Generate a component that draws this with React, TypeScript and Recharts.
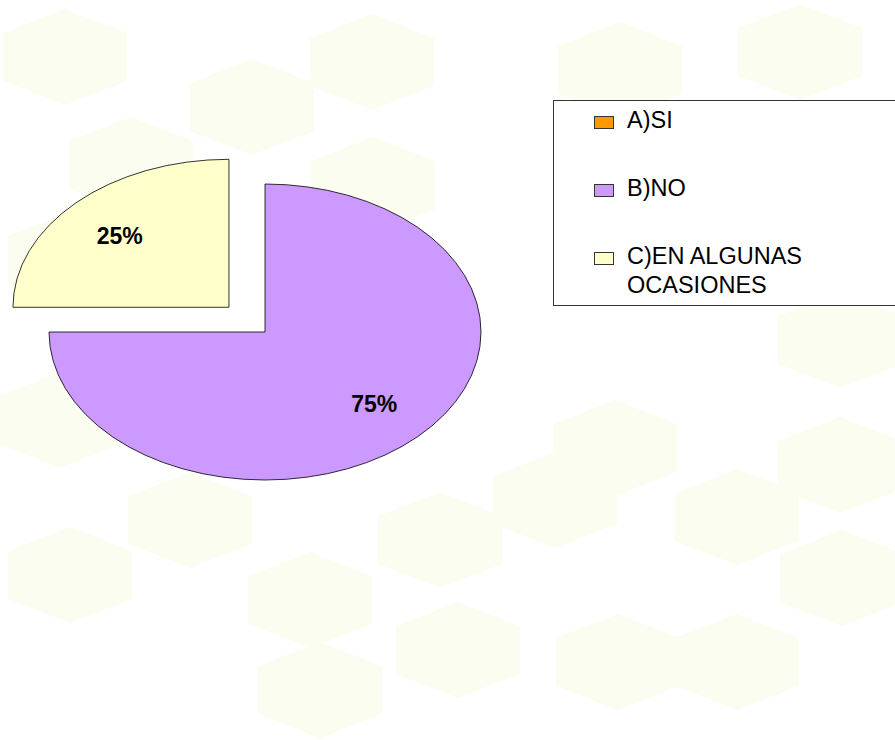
import React from 'react';
import { PieChart, Pie, Cell, Legend } from 'recharts';

const categories = ['A)SI', 'B)NO', 'C)EN ALGUNAS OCASIONES'];
const values = [0, 75, 25];
const colors = ['#FF9900', '#CC99FF', '#FFFFCC'];
const explodeOffsets = [0, 0, 51];
const legendLines = [['A)SI'], ['B)NO'], ['C)EN ALGUNAS', 'OCASIONES']];

const data = categories.map((name, i) => ({
  name,
  value: values[i],
  color: colors[i],
  explode: explodeOffsets[i],
}));

// background decoration hexagon centres
const hexCenters: [number, number][] = [
  [65, 57], [252, 107], [372, 62], [131, 165], [373, 185], [70, 260],
  [620, 70], [800, 52], [700, 150], [820, 250], [840, 340],
  [555, 500], [615, 448], [737, 517], [840, 465], [842, 578],
  [618, 662], [737, 662], [458, 650], [70, 575], [190, 520],
  [310, 600], [320, 690], [440, 540], [60, 420], [190, 380],
];

const RATIO = 148 / 216;
const RAD = Math.PI / 180;

function ellipseSector(cx: number, cy: number, rx: number, ry: number, start: number, end: number) {
  const p = (a: number) => [cx + rx * Math.cos(a * RAD), cy - ry * Math.sin(a * RAD)];
  const [x1, y1] = p(start);
  const [x2, y2] = p(end);
  const large = Math.abs(end - start) > 180 ? 1 : 0;
  const sweep = end < start ? 1 : 0;
  return `M${cx},${cy} L${x1},${y1} A${rx},${ry} 0 ${large} ${sweep} ${x2},${y2} Z`;
}

function offsetFor(props: any) {
  const d = props.explode ?? props.payload?.explode ?? 0;
  const mid = (props.startAngle + props.endAngle) / 2;
  return [d * Math.cos(mid * RAD), -d * Math.sin(mid * RAD) * RATIO];
}

const EllipseSlice = (props: any) => {
  const { cx, cy, outerRadius, startAngle, endAngle, fill } = props;
  if (Math.abs(endAngle - startAngle) < 0.01) return null;
  const [dx, dy] = offsetFor(props);
  return (
    <path
      d={ellipseSector(cx + dx, cy + dy, outerRadius, outerRadius * RATIO, startAngle, endAngle)}
      fill={fill}
      stroke="#000"
      strokeWidth={0.8}
    />
  );
};

const renderLabel = (props: any) => {
  const { cx, cy, outerRadius, startAngle, endAngle, percent } = props;
  if (!percent) return null;
  const [dx, dy] = offsetFor(props);
  const mid = (startAngle + endAngle) / 2;
  const x = cx + dx + outerRadius * 0.715 * Math.cos(mid * RAD);
  const y = cy + dy - outerRadius * RATIO * 0.685 * Math.sin(mid * RAD);
  return (
    <text
      x={x}
      y={y}
      textAnchor="middle"
      dominantBaseline="central"
      fontFamily="'Liberation Sans', Arial, sans-serif"
      fontWeight="bold"
      fontSize={23}
      fill="#000"
      stroke="none"
    >
      {`${Math.round(percent * 100)}%`}
    </text>
  );
};

const LegendBox = () => (
  <div
    style={{
      width: 350,
      height: 206,
      border: '1px solid #333',
      background: '#fff',
      boxSizing: 'border-box',
      fontFamily: "'Liberation Sans', Arial, sans-serif",
      fontSize: 23.5,
      color: '#000',
      position: 'relative',
    }}
  >
    {data.map((d, i) => (
      <div
        key={d.name}
        style={{ position: 'absolute', left: 40, top: 5 + i * 68, display: 'flex', alignItems: 'flex-start' }}
      >
        <div
          style={{
            width: 18,
            height: 11,
            marginTop: 10,
            background: d.color,
            border: '1px solid #333',
            marginRight: 13,
          }}
        />
        <div style={{ lineHeight: '29px' }}>
          {legendLines[i].map((l) => (
            <div key={l}>{l}</div>
          ))}
        </div>
      </div>
    ))}
  </div>
);

export default function App() {
  return (
    <div style={{ position: 'relative', width: 895, height: 740, overflow: 'hidden', background: '#fff' }}>
      <style>{'body{margin:0}'}</style>
      <svg width={895} height={740} style={{ position: 'absolute', left: 0, top: 0 }}>
        {hexCenters.map(([x, y], i) => (
          <polygon
            key={i}
            points={`${x},${y - 48} ${x + 62},${y - 24} ${x + 62},${y + 24} ${x},${y + 48} ${x - 62},${y + 24} ${x - 62},${y - 24}`}
            fill="#fbfdf1"
          />
        ))}
      </svg>
      <div style={{ position: 'absolute', left: 0, top: 0 }}>
        <PieChart width={895} height={740} margin={{ top: 0, right: 0, bottom: 0, left: 0 }}>
          <Pie
            data={data}
            dataKey="value"
            nameKey="name"
            cx={265}
            cy={332}
            outerRadius={216}
            startAngle={90}
            endAngle={-270}
            isAnimationActive={false}
            shape={EllipseSlice}
            label={renderLabel}
            labelLine={false}
            stroke="#000"
          >
            {data.map((d) => (
              <Cell key={d.name} fill={d.color} />
            ))}
          </Pie>
          <Legend
            content={() => <LegendBox />}
            wrapperStyle={{ position: 'absolute', left: 553, top: 100, width: 350 }}
          />
        </PieChart>
      </div>
    </div>
  );
}
